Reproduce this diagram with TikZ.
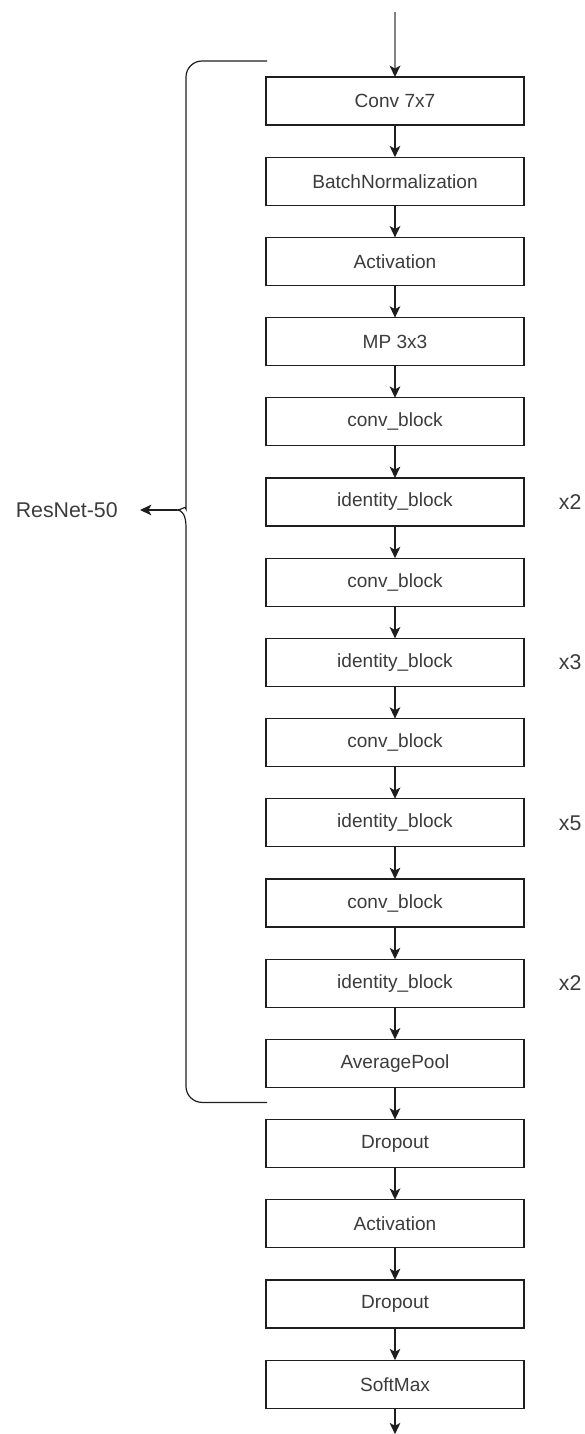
\documentclass[tikz,border=0pt]{standalone}
\usepackage{fontspec}
\setmainfont{Liberation Sans}
\usepackage{xcolor}
\usepackage{tikz}
\usetikzlibrary{arrows.meta,positioning,calc}
\definecolor{boxline}{RGB}{30,30,30}
\definecolor{boxtext}{RGB}{60,60,60}
\definecolor{feedline}{RGB}{130,130,130}

\begin{document}
\begin{tikzpicture}[
    x=0.75pt, y=-0.75pt,
    layer/.style={
      rectangle, draw=boxline, line width=1pt, fill=white,
      minimum width=193.5pt, minimum height=36pt, outer sep=0pt,
      inner sep=0pt, text=boxtext, font=\fontsize{14.3}{17}\selectfont
    },
    arrow/.style={-{Stealth[length=8.5pt,width=8pt,inset=2.2pt]}, line width=1pt, draw=boxline},
    brace/.style={line width=0.9pt, draw=boxline},
    rep/.style={inner sep=0pt, text=boxtext, font=\fontsize{16}{19}\selectfont},
    node distance=24.15pt
  ]
  \useasboundingbox (0,0) rectangle (585,1434);

  \node[layer] (conv) at (395,101) {Conv 7x7};
  \node[layer, below=of conv]  (bn)    {BatchNormalization};
  \node[layer, below=of bn]    (act)   {Activation};
  \node[layer, below=of act]   (mp)    {MP 3x3};
  \node[layer, below=of mp]    (cb1)   {conv\_block};
  \node[layer, below=of cb1]   (ib1)   {identity\_block};
  \node[layer, below=of ib1]   (cb2)   {conv\_block};
  \node[layer, below=of cb2]   (ib2)   {identity\_block};
  \node[layer, below=of ib2]   (cb3)   {conv\_block};
  \node[layer, below=of cb3]   (ib3)   {identity\_block};
  \node[layer, below=of ib3]   (cb4)   {conv\_block};
  \node[layer, below=of cb4]   (ib4)   {identity\_block};
  \node[layer, below=of ib4]   (avg)   {AveragePool};
  \node[layer, below=of avg]   (drop1) {Dropout};
  \node[layer, below=of drop1] (act2)  {Activation};
  \node[layer, below=of act2]  (drop2) {Dropout};
  \node[layer, below=of drop2] (soft)  {SoftMax};

  \coordinate (in)  at ($(conv.north)+(0,-65)$);
  \coordinate (out) at ($(soft.south)+(0,26)$);

  \draw[arrow, draw=feedline, line width=1.5pt, -{Stealth[length=8.5pt,width=8pt,inset=2.2pt,boxline]}] (in) -- (conv);
  \draw[arrow] (conv) -- (bn);
  \draw[arrow] (bn) -- (act);
  \draw[arrow] (act) -- (mp);
  \draw[arrow] (mp) -- (cb1);
  \draw[arrow] (cb1) -- (ib1);
  \draw[arrow] (ib1) -- (cb2);
  \draw[arrow] (cb2) -- (ib2);
  \draw[arrow] (ib2) -- (cb3);
  \draw[arrow] (cb3) -- (ib3);
  \draw[arrow] (ib3) -- (cb4);
  \draw[arrow] (cb4) -- (ib4);
  \draw[arrow] (ib4) -- (avg);
  \draw[arrow] (avg) -- (drop1);
  \draw[arrow] (drop1) -- (act2);
  \draw[arrow] (act2) -- (drop2);
  \draw[arrow] (drop2) -- (soft);
  \draw[arrow] (soft) -- (out);

  % repeat counts
  \node[rep, right=26pt of ib1] (n1) {x2};
  \node[rep, right=26pt of ib2] (n2) {x3};
  \node[rep, right=26pt of ib3] (n3) {x5};
  \node[rep, right=26pt of ib4] (n4) {x2};

  % brace round the backbone
  \coordinate (btop) at ($(conv.north west)+(1,-16)$);
  \coordinate (bbot) at ($(avg.south west)+(1,15)$);
  \coordinate (tip)  at ($(ib1.west)+(-89,8)$);
  \draw[brace] (btop) [rounded corners=12pt] -| ($(tip)+(9,-17)$) [sharp corners]
    .. controls ($(tip)+(9,-5)$) and ($(tip)+(5,0)$) .. (tip)
    .. controls ($(tip)+(5,0)$) and ($(tip)+(9,5)$) .. ($(tip)+(9,17)$)
    [rounded corners=12pt] |- (bbot);

  \node[rep, anchor=east] (resnet) at ($(tip)+(-59,0)$) {ResNet-50};
  \draw[arrow, shorten >=16.5pt] (tip) -- (resnet.east);
\end{tikzpicture}
\end{document}
